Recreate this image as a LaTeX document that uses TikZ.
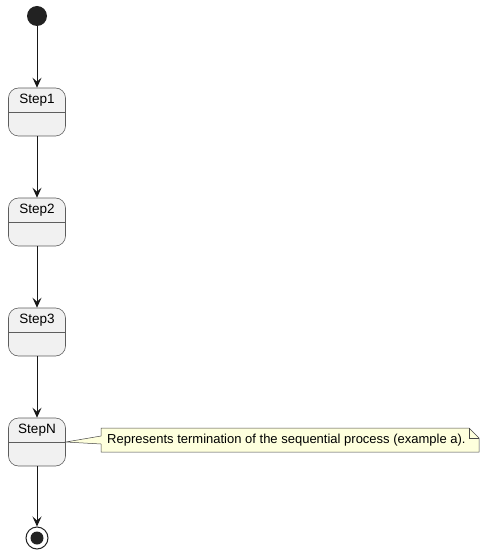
\documentclass[tikz,border=0pt]{standalone}
\usepackage{fontspec}
\setmainfont{Liberation Sans}
\usetikzlibrary{arrows.meta}
\definecolor{stfill}{HTML}{F1F1F1}
\definecolor{stline}{HTML}{181818}
\definecolor{notefill}{HTML}{FEFFDD}
\definecolor{dark}{HTML}{222222}
\tikzset{
  statebox/.style={draw=stline!70, line width=0.6pt, fill=stfill, rounded corners=10pt,
    minimum width=57pt, minimum height=48pt, inner sep=0pt},
  statetext/.style={font=\fontsize{13.5pt}{15pt}\selectfont, inner sep=0pt, anchor=center},
  divider/.style={draw=stline!70, line width=0.6pt},
  flow/.style={draw=stline, line width=1pt, -{Stealth[length=10pt,width=9pt,inset=4pt]}},
  notebox/.style={draw=stline!80, line width=0.5pt, fill=notefill},
  notetext/.style={font=\fontsize{13pt}{15pt}\selectfont, inner sep=0pt, anchor=west}
}
\begin{document}
\begin{tikzpicture}[x=1pt,y=-1pt]
\useasboundingbox (0,0) rectangle (486,553);
% start
\node[circle, fill=dark, minimum size=20pt, inner sep=0pt] (start) at (37,16) {};
% states
\foreach \n/\t/\y in {s1/Step1/112, s2/Step2/222, s3/Step3/332, sN/StepN/442}{
  \node[statebox] (\n) at (37,\y) {};
  \draw[divider] ([yshift=-0.5pt]\n.west) -- ([yshift=-0.5pt]\n.east);
  \node[statetext] (\n t) at (37,\y-12) {\t};
}
% end
\node[circle, draw=dark, line width=1pt, fill=white, minimum size=22pt, inner sep=0pt] (end) at (37,538) {};
\node[circle, fill=dark, minimum size=13pt, inner sep=0pt] (endin) at (end.center) {};
% flows
\draw[flow] (start.south) -- (s1.north);
\draw[flow] (s1.south) -- (s2.north);
\draw[flow] (s2.south) -- (s3.north);
\draw[flow] (s3.south) -- (sN.north);
\draw[flow] (sN.south) -- (end.north);
% note
\coordinate (tip) at (sN.east);
\draw[notebox] (101,428) -- (469,428) -- (479,438) -- (479,452) -- (101,452) -- (101,444) -- (tip) -- (101,436) -- cycle;
\draw[notebox, fill=none] (469,428) -- (469,438) -- (479,438);
\node[notetext] (note) at (107,440.5) {Represents termination of the sequential process (example a).};
\end{tikzpicture}
\end{document}
